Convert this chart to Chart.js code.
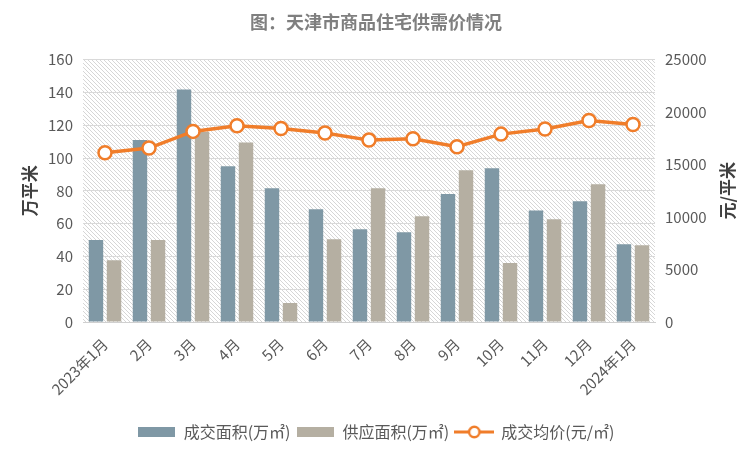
<!DOCTYPE html>
<html>
<head>
<meta charset="utf-8">
<script src="https://cdn.jsdelivr.net/npm/chart.js@4.4.0/dist/chart.umd.min.js"></script>
<style>
  html, body { margin: 0; padding: 0; background: #fff; }
  #wrap { width: 752px; height: 450px; position: relative; }
</style>
</head>
<body>
<div id="wrap"><canvas id="chart1"></canvas></div>
<script>
var months = ['2023年1月', '2月', '3月', '4月', '5月', '6月', '7月', '8月', '9月', '10月', '11月', '12月', '2024年1月'];
var dealArea = [50, 111, 141.7, 95, 81.5, 68.7, 56.6, 54.7, 78, 93.7, 68, 73.6, 47.4];
var supplyArea = [37.7, 50, 116, 109.5, 11.6, 50.5, 81.5, 64.5, 92.5, 35.9, 62.6, 84, 46.8];
var avgPrice = [16130, 16570, 18160, 18700, 18440, 18000, 17330, 17460, 16700, 17900, 18380, 19200, 18820];

var FONT = '"Noto Sans CJK SC", "Noto Sans", sans-serif';
var TEXT = '#595959';
var BLUE = '#7f98a5';
var TAN = '#b5afa2';
var ORANGE = '#f07d2a';

// legend swatches
function makeBox(color) {
    var c = document.createElement('canvas');
    c.width = 37; c.height = 10;
    var g = c.getContext('2d');
    g.fillStyle = color;
    g.fillRect(0, 0, 37, 10);
    return c;
}
function makeLineMark() {
    var c = document.createElement('canvas');
    c.width = 40; c.height = 14;
    var g = c.getContext('2d');
    g.strokeStyle = ORANGE;
    g.lineWidth = 3;
    g.beginPath(); g.moveTo(0, 7); g.lineTo(40, 7); g.stroke();
    g.fillStyle = '#fff';
    g.lineWidth = 2.5;
    g.beginPath(); g.arc(20, 7, 5.2, 0, Math.PI * 2); g.fill(); g.stroke();
    return c;
}
var legendMarks = [makeBox(BLUE), makeBox(TAN), makeLineMark()];

// hatched plot background
function makeHatch() {
    var c = document.createElement('canvas');
    c.width = 4; c.height = 4;
    var g = c.getContext('2d');
    g.strokeStyle = '#d6d6d6';
    g.lineWidth = 1;
    g.beginPath();
    g.moveTo(-1, -1); g.lineTo(5, 5);
    g.stroke();
    return c;
}

var hatchPlugin = {
    id: 'hatch',
    beforeDraw: function (chart) {
        var a = chart.chartArea;
        var ctx = chart.ctx;
        ctx.save();
        ctx.fillStyle = ctx.createPattern(makeHatch(), 'repeat');
        ctx.fillRect(a.left, a.top, a.right - a.left, a.bottom - a.top);
        ctx.restore();
    }
};

var axisTitles = {
    id: 'axisTitles',
    afterDraw: function (chart) {
        var ctx = chart.ctx;
        var a = chart.chartArea;
        var cy = (a.top + a.bottom) / 2;
        [[30, '万平米'], [728, '元/平米']].forEach(function (t) {
            ctx.save();
            ctx.font = 'bold 17px ' + FONT;
            ctx.fillStyle = '#404040';
            ctx.textAlign = 'center';
            ctx.textBaseline = 'middle';
            ctx.translate(t[0], cy);
            ctx.rotate(-Math.PI / 2);
            ctx.fillText(t[1], 0, 0);
            ctx.restore();
        });
    }
};

var ctx = document.getElementById('chart1').getContext('2d');
var myChart1 = new Chart(ctx, {
    data: {
        labels: months,
        datasets: [{
            type: 'line',
            label: '成交均价(元/㎡)',
            data: avgPrice,
            yAxisID: 'y1',
            borderColor: ORANGE,
            borderWidth: 3.5,
            pointRadius: 6.5,
            pointBorderWidth: 2.5,
            pointBackgroundColor: '#fff',
            pointBorderColor: ORANGE,
            tension: 0,
            order: 0
        }, {
            type: 'bar',
            label: '成交面积(万㎡)',
            data: dealArea,
            yAxisID: 'y',
            backgroundColor: BLUE,
            categoryPercentage: 0.82,
            barPercentage: 0.8,
            order: 1
        }, {
            type: 'bar',
            label: '供应面积(万㎡)',
            data: supplyArea,
            yAxisID: 'y',
            backgroundColor: TAN,
            categoryPercentage: 0.82,
            barPercentage: 0.8,
            order: 1
        }]
    },
    options: {
        responsive: true,
        maintainAspectRatio: false,
        animation: false,
        layout: { padding: { left: 0, right: 0, top: 0, bottom: 0 } },
        plugins: {
            title: {
                display: true,
                text: '图：天津市商品住宅供需价情况',
                color: '#7f7f7f',
                font: { family: FONT, size: 18, weight: 'bold' },
                padding: { top: 11, bottom: 27 }
            },
            legend: {
                position: 'bottom',
                labels: {
                    usePointStyle: true,
                    pointStyleWidth: 38,
                    boxHeight: 10,
                    color: TEXT,
                    font: { family: FONT, size: 16 },
                    padding: 6,
                    generateLabels: function (chart) {
                        var order = [1, 2, 0];
                        return order.map(function (di, i) {
                            return {
                                text: chart.data.datasets[di].label,
                                pointStyle: legendMarks[i],
                                datasetIndex: di,
                                fontColor: TEXT,
                                lineWidth: 0,
                                hidden: false
                            };
                        });
                    }
                }
            },
            tooltip: { enabled: false }
        },
        scales: {
            x: {
                afterFit: function (s) { s.height = 96; },
                grid: { display: false, drawTicks: false },
                border: { display: true, color: '#d0d0d0' },
                ticks: {
                    color: TEXT,
                    font: { family: FONT, size: 15 },
                    maxRotation: 45,
                    minRotation: 45,
                    padding: 13,
                    autoSkip: false
                }
            },
            y: {
                position: 'left',
                min: 0, max: 160,
                afterFit: function (s) { s.width = 83; },
                grid: { color: '#d9d9d9', drawTicks: false },
                border: { display: false },
                ticks: {
                    stepSize: 20,
                    color: TEXT,
                    font: { family: FONT, size: 15 },
                    padding: 10
                }
            },
            y1: {
                position: 'right',
                min: 0, max: 25000,
                afterFit: function (s) { s.width = 97; },
                grid: { display: false, drawTicks: false },
                border: { display: false },
                ticks: {
                    stepSize: 5000,
                    color: TEXT,
                    font: { family: FONT, size: 15 },
                    padding: 10,
                    callback: function (v) { return String(v); }
                }
            }
        }
    },
    plugins: [hatchPlugin, axisTitles]
});
</script>
</body>
</html>
